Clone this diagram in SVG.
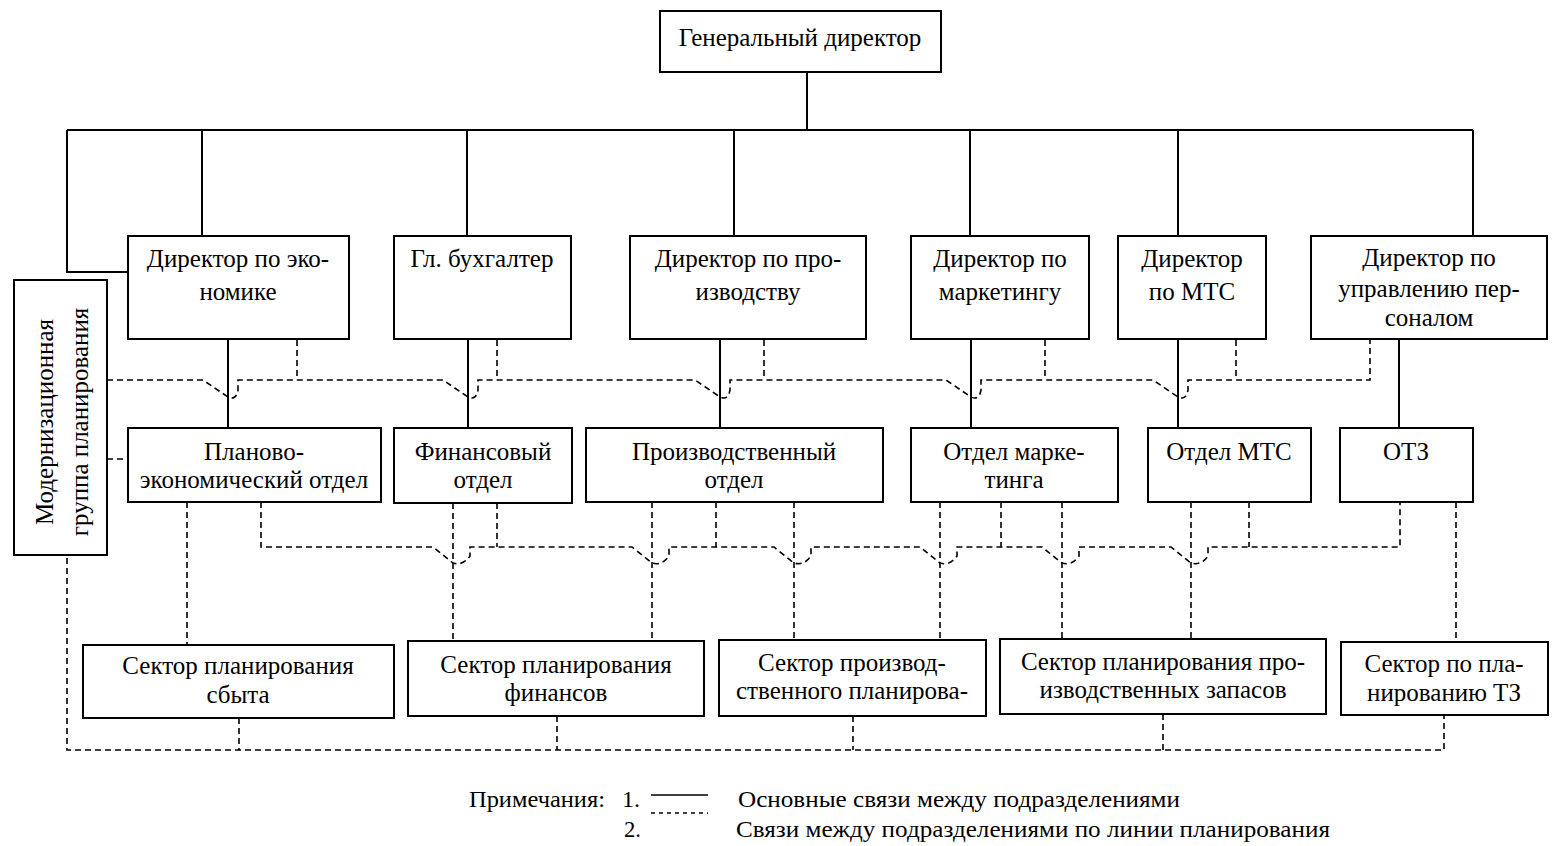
<svg xmlns="http://www.w3.org/2000/svg" width="1567" height="846" viewBox="0 0 1567 846">
<style>
.box{fill:#fff;stroke:#000;stroke-width:2}
.t{font-family:"Liberation Serif","Times New Roman",serif;font-size:25px;fill:#000;text-anchor:middle}
.lg{font-family:"Liberation Serif","Times New Roman",serif;font-size:23px;fill:#000}
.s{fill:none;stroke:#000;stroke-width:2}
.d{fill:none;stroke:#000;stroke-width:1.6;stroke-dasharray:6 4}
</style>
<rect width="1567" height="846" fill="#fff"/>
<g id="connectors">
<path class="s" d="M807,72V130M67,130H1473M67,130V272H128M202,130V236M467,130V236M734,130V236M970,130V236M1178,130V236M1473,130V236"/>
<path class="s" d="M228,339V428M468,339V428M720,339V428M971,339V428M1178,339V428M1399,339V428"/>
<path class="d" d="M107,380H203L228,397Q236,401 238,390V380H443L468,397Q476,401 478,390V380H695L720,397Q728,401 730,390V380H946L971,397Q979,401 981,390V380H1153L1178,397Q1186,401 1188,390V380H1370V340"/>
<path class="d" d="M297,340V380M497,340V380M764,340V380M1045,340V380M1236,340V380"/>
<path class="d" d="M107,459H128"/>
<path class="d" d="M261,502V547H433L453,563Q463,566 470,556V547H632L652,563Q662,566 669,556V547H774L794,563Q804,566 811,556V547H920L940,563Q950,566 957,556V547H1042L1062,563Q1072,566 1079,556V547H1171L1191,563Q1201,566 1208,556V547H1400V502"/>
<path class="d" d="M497,503V547M716,502V547M1001,502V547M1249,502V547"/>
<path class="d" d="M187,502V645M453,503V641M652,502V641M794,502V640M940,502V640M1062,502V639M1191,502V639M1456,502V642"/>
<path class="d" d="M67,518V750H1444V715M239,718V750M557,716V750M853,716V750M1163,714V750"/>
</g>
<g id="n-gen"><rect class="box" x="660" y="11" width="281" height="61"/><text class="t" x="800" y="46">Генеральный директор</text></g>
<g id="n-dir-econ"><rect class="box" x="128" y="236" width="221" height="103"/><text class="t" x="238" y="267">Директор по эко-</text><text class="t" x="238" y="300">номике</text></g>
<g id="n-buh"><rect class="box" x="394" y="236" width="177" height="103"/><text class="t" x="482" y="267">Гл. бухгалтер</text></g>
<g id="n-dir-prod"><rect class="box" x="630" y="236" width="236" height="103"/><text class="t" x="748" y="267">Директор по про-</text><text class="t" x="748" y="300">изводству</text></g>
<g id="n-dir-mark"><rect class="box" x="911" y="236" width="178" height="103"/><text class="t" x="1000" y="267">Директор по</text><text class="t" x="1000" y="300">маркетингу</text></g>
<g id="n-dir-mts"><rect class="box" x="1118" y="236" width="148" height="103"/><text class="t" x="1192" y="267">Директор</text><text class="t" x="1192" y="300">по МТС</text></g>
<g id="n-dir-pers"><rect class="box" x="1311" y="236" width="236" height="103"/><text class="t" x="1429" y="266">Директор по</text><text class="t" x="1429" y="297">управлению пер-</text><text class="t" x="1429" y="326">соналом</text></g>
<g id="n-modern"><rect class="box" x="14" y="280" width="93" height="275"/><text class="t" transform="translate(53,422) rotate(-90)">Модернизационная</text><text class="t" transform="translate(88,422) rotate(-90)">группа планирования</text></g>
<g id="n-peo"><rect class="box" x="128" y="428" width="253" height="74"/><text class="t" x="254" y="460">Планово-</text><text class="t" x="254" y="488">экономический отдел</text></g>
<g id="n-fin"><rect class="box" x="394" y="428" width="178" height="75"/><text class="t" x="483" y="460">Финансовый</text><text class="t" x="483" y="488">отдел</text></g>
<g id="n-prod"><rect class="box" x="586" y="428" width="297" height="74"/><text class="t" x="734" y="460">Производственный</text><text class="t" x="734" y="488">отдел</text></g>
<g id="n-mark"><rect class="box" x="911" y="428" width="207" height="74"/><text class="t" x="1014" y="460">Отдел марке-</text><text class="t" x="1014" y="488">тинга</text></g>
<g id="n-mts"><rect class="box" x="1148" y="428" width="163" height="74"/><text class="t" x="1229" y="460">Отдел МТС</text></g>
<g id="n-otz"><rect class="box" x="1340" y="428" width="133" height="74"/><text class="t" x="1406" y="460">ОТЗ</text></g>
<g id="n-s-sbyt"><rect class="box" x="83" y="645" width="311" height="73"/><text class="t" x="238" y="674">Сектор планирования</text><text class="t" x="238" y="703">сбыта</text></g>
<g id="n-s-fin"><rect class="box" x="408" y="641" width="296" height="75"/><text class="t" x="556" y="673">Сектор планирования</text><text class="t" x="556" y="701">финансов</text></g>
<g id="n-s-prod"><rect class="box" x="719" y="640" width="267" height="76"/><text class="t" x="852" y="671">Сектор производ-</text><text class="t" x="852" y="699">ственного планирова-</text></g>
<g id="n-s-zap"><rect class="box" x="1000" y="639" width="326" height="75"/><text class="t" x="1163" y="670">Сектор планирования про-</text><text class="t" x="1163" y="698">изводственных запасов</text></g>
<g id="n-s-tz"><rect class="box" x="1341" y="642" width="207" height="73"/><text class="t" x="1444" y="672">Сектор по пла-</text><text class="t" x="1444" y="701">нированию ТЗ</text></g>
<g id="legend">
<text class="lg" x="469" y="807" textLength="136" lengthAdjust="spacingAndGlyphs">Примечания:</text>
<text class="lg" x="622" y="807" textLength="18" lengthAdjust="spacingAndGlyphs">1.</text>
<line x1="651" y1="795" x2="708" y2="795" stroke="#000" stroke-width="1.6"/>
<line x1="651" y1="813" x2="708" y2="813" stroke="#000" stroke-width="1.4" stroke-dasharray="4 4"/>
<text class="lg" x="738" y="807" textLength="442" lengthAdjust="spacingAndGlyphs">Основные связи между подразделениями</text>
<text class="lg" x="624" y="837" textLength="17" lengthAdjust="spacingAndGlyphs">2.</text>
<text class="lg" x="736" y="837" textLength="594" lengthAdjust="spacingAndGlyphs">Связи между подразделениями по линии планирования</text>
</g>
</svg>
